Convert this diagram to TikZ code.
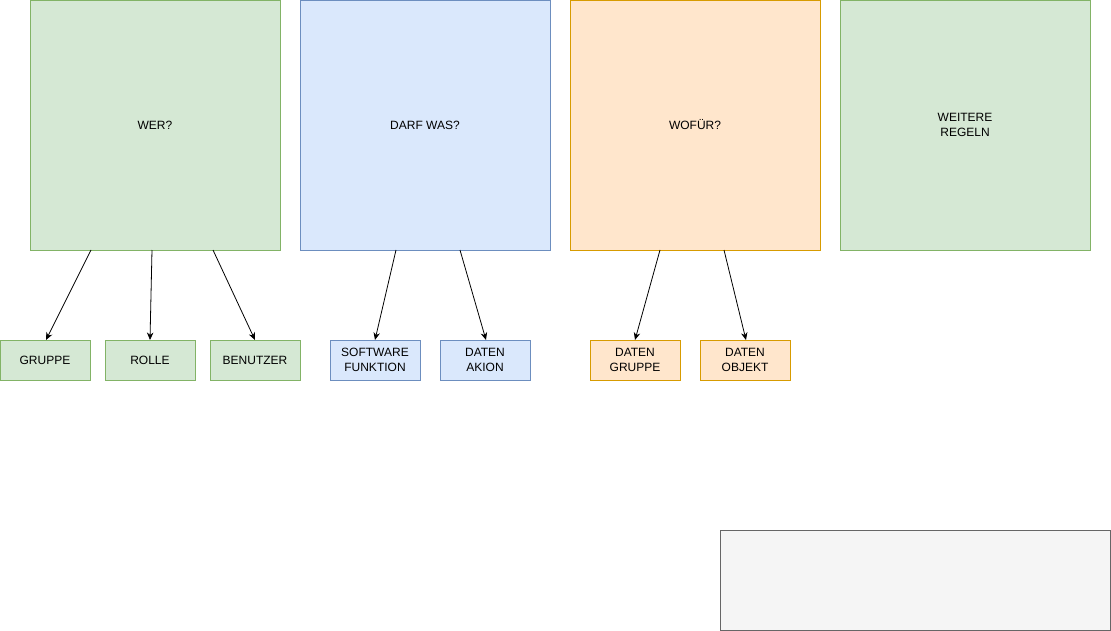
\documentclass[tikz,border=0pt]{standalone}
\usepackage{fontspec}
\setmainfont{Liberation Sans}
\usetikzlibrary{arrows.meta}
\definecolor{gfill}{HTML}{D5E8D4}\definecolor{gline}{HTML}{82B366}
\definecolor{bfill}{HTML}{DAE8FC}\definecolor{bline}{HTML}{6C8EBF}
\definecolor{ofill}{HTML}{FFE6CC}\definecolor{oline}{HTML}{D79B00}
\definecolor{sfill}{HTML}{F5F5F5}\definecolor{sline}{HTML}{666666}
\begin{document}
\begin{tikzpicture}[x=1pt,y=-1pt,
  box/.style={draw,line width=0.8pt,inner sep=0pt,outer sep=0pt,align=center,font=\fontsize{12}{15}\selectfont},
  green/.style={box,fill=gfill,draw=gline},
  blue/.style={box,fill=bfill,draw=bline},
  orange/.style={box,fill=ofill,draw=oline},
  big/.style={minimum width=250pt,minimum height=250pt},
  small/.style={minimum width=90pt,minimum height=40pt},
  arr/.style={-{Stealth[length=7.5pt,width=6.5pt]},line width=0.8pt}]
\useasboundingbox (0,0) rectangle (1111,631);
\node[green,big] (wer) at (155,125) {WER?};
\node[blue,big] (darf) at (425,125) {DARF WAS?};
\node[orange,big] (wofuer) at (695,125) {WOFÜR?};
\node[green,big] (weitere) at (965,125) {WEITERE\\REGELN};
\node[green,small] (gruppe) at (45,360) {GRUPPE};
\node[green,small] (rolle) at (150,360) {ROLLE};
\node[green,small] (benutzer) at (255,360) {BENUTZER};
\node[blue,small] (software) at (375,360) {SOFTWARE\\FUNKTION};
\node[blue,small] (akion) at (485,360) {DATEN\\AKION};
\node[orange,small] (dgruppe) at (635,360) {DATEN\\GRUPPE};
\node[orange,small] (dobjekt) at (745,360) {DATEN\\OBJEKT};
\node[box,fill=sfill,draw=sline,minimum width=390pt,minimum height=100pt] (grau) at (915,580) {};
\draw[arr] ([xshift=-64pt]wer.south) -- ([xshift=1pt]gruppe.north);
\draw[arr] ([xshift=-3pt]wer.south) -- (rolle.north);
\draw[arr] ([xshift=58pt]wer.south) -- (benutzer.north);
\draw[arr] ([xshift=-29pt]darf.south) -- (software.north);
\draw[arr] ([xshift=35pt]darf.south) -- ([xshift=1pt]akion.north);
\draw[arr] ([xshift=-35pt]wofuer.south) -- (dgruppe.north);
\draw[arr] ([xshift=29pt]wofuer.south) -- ([xshift=1pt]dobjekt.north);
\end{tikzpicture}
\end{document}
